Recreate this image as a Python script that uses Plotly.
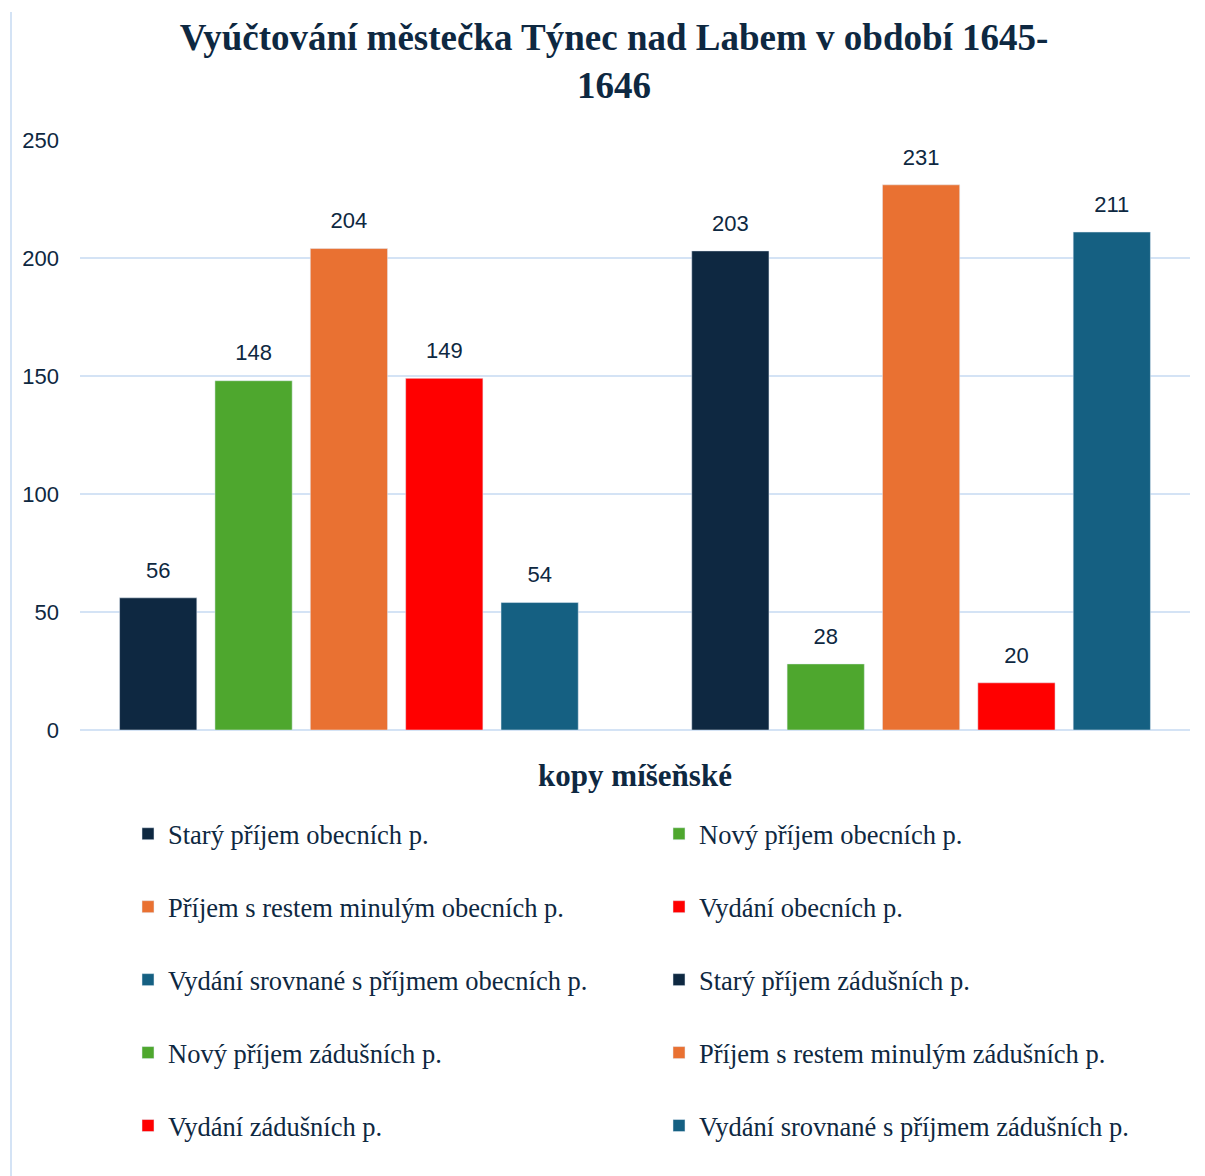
"""Vyúčtování městečka Týnec nad Labem 1645-1646 (Plotly)"""

import plotly.graph_objects as go

# data
nazvy = [
    'Starý příjem obecních p.',
    'Nový příjem obecních p.',
    'Příjem s restem minulým obecních p.',
    'Vydání obecních p.',
    'Vydání srovnané s příjmem obecních p.',
    'Starý příjem zádušních p.',
    'Nový příjem zádušních p.',
    'Příjem s restem minulým zádušních p.',
    'Vydání zádušních p.',
    'Vydání srovnané s příjmem zádušních p.',
]
hodnoty = [56, 148, 204, 149, 54, 203, 28, 231, 20, 211]
barvy = ['#0E2841', '#4EA72E', '#E97132', '#FF0000', '#156082'] * 2

# poradi kategorii na ose x, mezi obecni a zadusni je prazdne misto
poradi = nazvy[:5] + [' '] + nazvy[5:]

TEXT = '#0E2841'
MRIZKA = '#D4E3F5'
SERIF = 'Liberation Serif, Times New Roman, serif'
SANS = 'Liberation Sans, Arial, sans-serif'

fig = go.Figure()
for i, (nazev, hodnota, barva) in enumerate(zip(nazvy, hodnoty, barvy)):
    fig.add_trace(go.Bar(
        x=[nazev],
        y=[hodnota],
        name=nazev,
        marker_color=barva,
        legendgroup=str(i),
        # liche polozky vlevo, sude vpravo
        legend='legend' if i % 2 == 0 else 'legend2',
    ))

# popisky hodnot nad sloupci (neviditelne body kvuli odsazeni textu)
fig.add_trace(go.Scatter(
    x=nazvy,
    y=hodnoty,
    mode='markers+text',
    text=hodnoty,
    textposition='top center',
    textfont=dict(family=SANS, size=22, color=TEXT),
    marker=dict(size=22, color='rgba(0,0,0,0)'),
    cliponaxis=False,
    showlegend=False,
    hoverinfo='skip',
))

legenda = dict(
    orientation='v',
    xanchor='left',
    yanchor='top',
    y=-80 / 590,
    font=dict(family=SERIF, size=26.5, color=TEXT),
    tracegroupgap=35.5,
    bgcolor='rgba(0,0,0,0)',
)

fig.update_layout(
    width=1205,
    height=1176,
    margin=dict(l=72, r=23, t=132, b=454),
    paper_bgcolor='white',
    plot_bgcolor='white',
    barmode='overlay',
    bargap=0.19,
    title=dict(
        text='Vyúčtování městečka Týnec nad Labem v období 1645-<br>1646',
        font=dict(family=SERIF, size=37, color=TEXT, weight='bold'),
        x=0.503, xanchor='center',
        y=1 - 42 / 1176, yanchor='middle',
    ),
    legend=dict(legenda, x=(120 - 72) / 1110),
    legend2=dict(legenda, x=(651 - 72) / 1110),
    xaxis=dict(
        type='category',
        categoryorder='array',
        categoryarray=poradi,
        range=[-0.82, 10.82],
        showticklabels=False,
        showgrid=False,
        zeroline=False,
        title=dict(text='kopy míšeňské',
                   font=dict(family=SERIF, size=31, color=TEXT, weight='bold'),
                   standoff=34),
    ),
    yaxis=dict(
        range=[0, 250],
        dtick=50,
        showgrid=True,
        gridcolor=MRIZKA,
        gridwidth=2,
        zeroline=True,
        zerolinecolor=MRIZKA,
        zerolinewidth=2,
        tickfont=dict(family=SANS, size=22, color=TEXT),
        ticklabelstandoff=20,
    ),
    shapes=[dict(
        type='line', xref='paper', yref='paper',
        x0=-69 / 1110, x1=-69 / 1110, y0=-454 / 590, y1=718 / 590,
        line=dict(color=MRIZKA, width=2),
    )],
)

fig.write_html('out.html')
